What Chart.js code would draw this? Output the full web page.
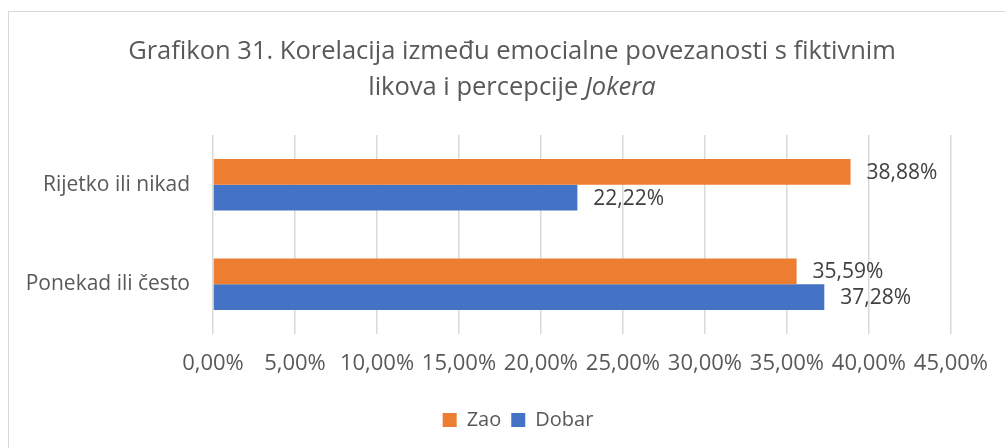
<!DOCTYPE html>
<html>
<head>
<meta charset="utf-8">
<script src="https://cdn.jsdelivr.net/npm/chart.js@4.4.1/dist/chart.umd.min.js"></script>
<style>
  html, body { margin: 0; padding: 0; background: #ffffff; overflow: hidden; }
  #wrap { position: relative; width: 1005px; height: 448px; }
  #frame { position: absolute; left: 8px; top: 11px; width: 1200px; height: 600px; border: 1px solid #d9d9d9; box-sizing: border-box; }
  #c { position: absolute; left: 0; top: 0; }
</style>
</head>
<body>
<div id="wrap">
  <div id="frame"></div>
  <canvas id="c" width="1005" height="448"></canvas>
</div>
<script>
const categories = ['Rijetko ili nikad', 'Ponekad ili često'];
const zaoValues = [38.88, 35.59];
const dobarValues = [22.22, 37.28];
const seriesNames = ['Zao', 'Dobar'];
const xTicks = [0, 5, 10, 15, 20, 25, 30, 35, 40, 45];
const titleLine1 = 'Grafikon 31. Korelacija između emocialne povezanosti s fiktivnim';
const titleLine2Plain = 'likova i percepcije ';
const titleLine2Italic = 'Jokera';

const FONT = "'Open Sans', 'Segoe UI', sans-serif";
const fmt = v => v.toFixed(2).replace('.', ',') + '%';

const titlePlugin = {
  id: 'mixedTitle',
  afterDraw(chart) {
    const ctx = chart.ctx;
    ctx.save();
    ctx.fillStyle = '#595959';
    ctx.textBaseline = 'middle';
    const cx = 512;
    const fs = 25.5;
    ctx.font = fs + 'px ' + FONT;
    ctx.textAlign = 'center';
    ctx.fillText(titleLine1, cx, 52);
    ctx.textAlign = 'left';
    const w1 = ctx.measureText(titleLine2Plain).width;
    ctx.font = 'italic ' + fs + 'px ' + FONT;
    const w2 = ctx.measureText(titleLine2Italic).width;
    const x0 = cx - (w1 + w2) / 2;
    ctx.font = fs + 'px ' + FONT;
    ctx.fillText(titleLine2Plain, x0, 88);
    ctx.font = 'italic ' + fs + 'px ' + FONT;
    ctx.fillText(titleLine2Italic, x0 + w1, 88);
    ctx.restore();
  }
};

const labelPlugin = {
  id: 'barLabels',
  afterDatasetsDraw(chart) {
    const ctx = chart.ctx;
    ctx.save();
    ctx.font = '21px ' + FONT;
    ctx.fillStyle = '#404040';
    ctx.textAlign = 'left';
    ctx.textBaseline = 'middle';
    chart.data.datasets.forEach((ds, di) => {
      const meta = chart.getDatasetMeta(di);
      meta.data.forEach((bar, i) => {
        ctx.fillText(fmt(ds.data[i]), bar.x + 16, bar.y + 1);
      });
    });
    ctx.restore();
  }
};

const legendShift = {
  id: 'legendShift',
  afterLayout(chart) {
    if (chart.legend) {
      chart.legend.left += 42;
      chart.legend.right += 42;
    }
  }
};

new Chart(document.getElementById('c'), {
  type: 'bar',
  data: {
    labels: categories,
    datasets: [
      { label: seriesNames[0], data: zaoValues, backgroundColor: '#ED7D31', borderWidth: 0 },
      { label: seriesNames[1], data: dobarValues, backgroundColor: '#4472C4', borderWidth: 0 }
    ]
  },
  options: {
    indexAxis: 'y',
    responsive: false,
    animation: false,
    devicePixelRatio: 1,
    layout: { padding: { top: 135, right: 53, left: 0, bottom: 8 } },
    datasets: { bar: { categoryPercentage: 0.52, barPercentage: 1 } },
    scales: {
      x: {
        min: 0, max: 45,
        afterBuildTicks(scale) { scale.ticks = xTicks.map(v => ({ value: v })); },
        afterFit(scale) { scale.height = 66; },
        grid: { color: '#d9d9d9', lineWidth: 1.5, drawTicks: false },
        border: { display: false },
        ticks: {
          padding: 17,
          color: '#595959',
          font: { family: FONT, size: 22 },
          maxRotation: 0,
          autoSkip: false,
          callback: v => fmt(v)
        }
      },
      y: {
        afterFit(scale) { scale.width = 213; },
        grid: { display: false, drawTicks: false },
        border: { display: false },
        ticks: {
          padding: 23,
          color: '#595959',
          font: { family: FONT, size: 21 }
        }
      }
    },
    plugins: {
      title: { display: false },
      tooltip: { enabled: false },
      legend: {
        position: 'bottom',
        labels: {
          boxWidth: 14, boxHeight: 14, padding: 10,
          color: '#595959',
          font: { family: FONT, size: 20 }
        }
      }
    }
  },
  plugins: [titlePlugin, labelPlugin, legendShift]
});
</script>
</body>
</html>
